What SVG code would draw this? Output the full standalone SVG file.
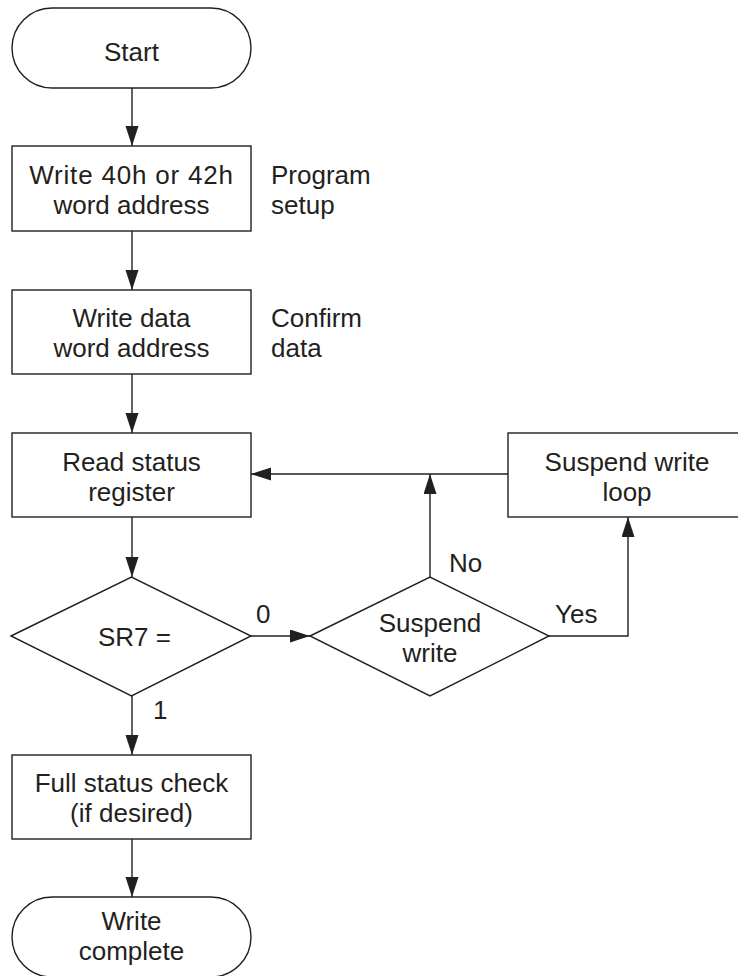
<svg xmlns="http://www.w3.org/2000/svg" width="738" height="976" viewBox="0 0 738 976">
<style>
.s{fill:#fff;stroke:#231f20;stroke-width:1.4}
.c{fill:none;stroke:#231f20;stroke-width:1.4}
text{font-family:"Liberation Sans",Arial,sans-serif;font-size:26px;fill:#231f20}
.m{text-anchor:middle}
</style>
<defs>
<marker id="ah" markerUnits="userSpaceOnUse" markerWidth="21" markerHeight="14" refX="20" refY="6.5" orient="auto">
<path d="M0,0 L20,6.5 L0,13 z" fill="#231f20"/>
</marker>
</defs>
<rect width="738" height="976" fill="#fff"/>
<g id="connectors">
<line class="c" x1="132" y1="88" x2="132" y2="146" marker-end="url(#ah)"/>
<line class="c" x1="132" y1="231" x2="132" y2="290" marker-end="url(#ah)"/>
<line class="c" x1="132" y1="374" x2="132" y2="433" marker-end="url(#ah)"/>
<line class="c" x1="132" y1="517" x2="132" y2="577" marker-end="url(#ah)"/>
<line class="c" x1="251" y1="636" x2="310" y2="636" marker-end="url(#ah)"/>
<line class="c" x1="430" y1="577" x2="430" y2="474" marker-end="url(#ah)"/>
<line class="c" x1="508" y1="474" x2="251" y2="474" marker-end="url(#ah)"/>
<polyline class="c" points="549,636 628,636 628,517" marker-end="url(#ah)"/>
<line class="c" x1="132" y1="696" x2="132" y2="755" marker-end="url(#ah)"/>
<line class="c" x1="132" y1="839" x2="132" y2="897" marker-end="url(#ah)"/>
<text x="256" y="623">0</text>
<text x="449" y="572">No</text>
<text x="555" y="623">Yes</text>
<text x="153" y="719">1</text>
</g>
<g id="start">
<rect class="s" x="12" y="8" width="239" height="80" rx="40"/>
<text class="m" x="131.5" y="61">Start</text>
</g>
<g id="program-setup">
<rect class="s" x="12" y="146" width="239" height="85"/>
<text class="m" x="131.5" y="184" letter-spacing="0.8">Write 40h or 42h</text>
<text class="m" x="131.5" y="214">word address</text>
<text x="271" y="184">Program</text>
<text x="271" y="214">setup</text>
</g>
<g id="confirm-data">
<rect class="s" x="12" y="290" width="239" height="84"/>
<text class="m" x="131.5" y="327">Write data</text>
<text class="m" x="131.5" y="357">word address</text>
<text x="271" y="327">Confirm</text>
<text x="271" y="357">data</text>
</g>
<g id="read-status">
<rect class="s" x="12" y="433" width="239" height="84"/>
<text class="m" x="131.5" y="471">Read status</text>
<text class="m" x="131.5" y="501">register</text>
</g>
<g id="suspend-loop">
<rect class="s" x="508" y="433" width="238" height="84"/>
<text class="m" x="627" y="471">Suspend write</text>
<text class="m" x="627" y="501">loop</text>
</g>
<g id="sr7">
<polygon class="s" points="11,636 131.5,577 251,636 131.5,696"/>
<text x="98" y="646">SR7 =</text>
</g>
<g id="suspend-write">
<polygon class="s" points="310,636 430,577 549,636 430,696"/>
<text class="m" x="430" y="632">Suspend</text>
<text class="m" x="430" y="662">write</text>
</g>
<g id="full-status">
<rect class="s" x="12" y="755" width="239" height="84"/>
<text class="m" x="131.5" y="792">Full status check</text>
<text class="m" x="131.5" y="822">(if desired)</text>
</g>
<g id="end">
<rect class="s" x="12" y="897" width="239" height="80" rx="40"/>
<text class="m" x="131.5" y="930">Write</text>
<text class="m" x="131.5" y="960">complete</text>
</g>
</svg>
